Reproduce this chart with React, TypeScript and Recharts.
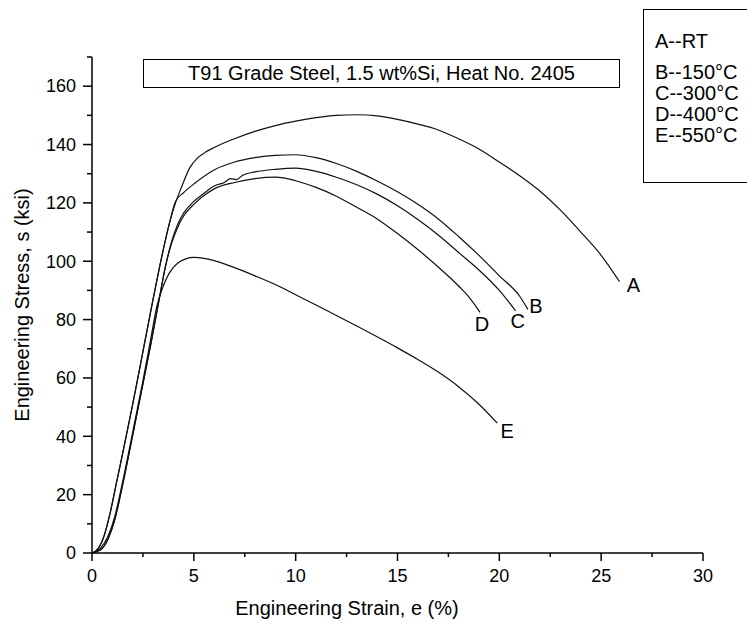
import { LineChart, Line, XAxis, YAxis, LabelList } from "recharts";

const FONT = '"Liberation Sans", Arial, sans-serif';

// strain (%) / stress (ksi)
const strainA = [0, 0.3, 0.6, 0.9, 1.2, 1.5, 2, 2.5, 3, 3.5, 3.8, 4.1, 4.4, 4.8, 5.2, 5.6, 6, 7, 8, 9, 10, 11, 12, 13, 14, 15, 16, 17, 18, 19, 20, 21, 22, 23, 24, 25, 25.9];
const stressA = [0, 1.5, 6, 14, 24, 34, 51, 69, 87, 104, 113, 120, 125.5, 132, 135.5, 137.5, 139, 142, 144.5, 146.5, 148, 149.2, 150, 150.2, 149.8, 148.6, 147, 145, 142, 138.5, 134, 129.3, 124, 117.5, 110, 102, 93];

const strainB = [0, 0.3, 0.6, 0.9, 1.2, 1.5, 2, 2.5, 3, 3.5, 3.8, 4.1, 4.5, 5, 6, 7, 8, 9, 10, 11, 12, 13, 14, 15, 16, 17, 18, 19, 20, 21, 21.4];
const stressB = [0, 1.5, 6, 14, 24, 34, 51, 69, 87, 104, 113, 120.5, 123.5, 126.5, 131.3, 134, 135.5, 136.3, 136.5, 135.5, 133.5, 130.8, 127.5, 123.8, 119.5, 114.5, 108.5, 102, 95, 88, 83.5];

const strainC = [0, 0.4, 0.8, 1.1, 1.4, 1.7, 2.1, 2.5, 2.9, 3.3, 3.6, 3.9, 4.2, 4.5, 5, 5.5, 6, 6.5, 6.8, 7.1, 7.4, 8, 9, 10, 11, 12, 13, 14, 15, 16, 17, 18, 19, 20, 20.8];
const stressC = [0, 1, 5, 11, 20, 30, 44, 58, 72, 87, 98, 106.5, 112.5, 116.5, 120.5, 123.3, 125.8, 127, 128.3, 128, 129.5, 130.6, 131.5, 131.9, 130.8, 128.8, 126.2, 123, 119, 114.3, 109, 103, 97, 90, 83];

const strainD = [0, 0.4, 0.8, 1.1, 1.4, 1.7, 2.1, 2.5, 2.9, 3.3, 3.6, 3.9, 4.2, 4.5, 5, 5.5, 6, 7, 8, 9, 10, 11, 12, 13, 14, 15, 16, 17, 18, 18.5, 19.05];
const stressD = [0, 1, 5, 11, 20, 30, 44, 58, 72, 87, 98, 106, 111.5, 115.5, 119.5, 122.5, 124.8, 127, 128.3, 128.8, 127.6, 125.3, 122.3, 118.5, 114.5, 109.5, 104, 98, 91.5, 87.8, 82.5];

const strainE = [0, 0.4, 0.8, 1.1, 1.4, 1.7, 2.1, 2.5, 2.9, 3.2, 3.5, 3.8, 4.2, 4.6, 5, 5.5, 6, 7, 8, 9, 10, 11, 12, 13, 14, 15, 16, 17, 18, 19, 19.9];
const stressE = [0, 1.5, 6, 12, 21, 31, 45, 59, 74, 85, 91.5, 96, 99.3, 100.8, 101.3, 101, 100.2, 97.8, 95, 92, 88.5, 85, 81.4, 77.8, 74.1, 70.3, 66.3, 62, 57, 51, 44.5];

const xTicks = [0, 2.5, 5, 7.5, 10, 12.5, 15, 17.5, 20, 22.5, 25, 27.5, 30];
const yTicks = [0, 10, 20, 30, 40, 50, 60, 70, 80, 90, 100, 110, 120, 130, 140, 150, 160, 170];

const legendItems = ["A--RT", "B--150°C", "C--300°C", "D--400°C", "E--550°C"];
const titleText = "T91 Grade Steel, 1.5 wt%Si, Heat No. 2405";

const series = [
  { id: "A", strain: strainA, stress: stressA },
  { id: "B", strain: strainB, stress: stressB },
  { id: "C", strain: strainC, stress: stressC },
  { id: "D", strain: strainD, stress: stressD },
  { id: "E", strain: strainE, stress: stressE },
];

// where each curve letter sits relative to the curve's last point
const labelOffset: Record<string, [number, number]> = {
  A: [14, 3],
  B: [8, -3],
  C: [2, 10],
  D: [2, 12],
  E: [10, 8],
};

// vertical centre of each legend line inside the box
const legendRowY = [31, 62, 83, 104, 125];

function XTick({ x, y, payload }: any) {
  const v = payload.value;
  const major = v % 5 === 0;
  return (
    <g>
      <line x1={x} x2={x} y1={y} y2={y + (major ? 8 : 4)} stroke="#000" strokeWidth={1.5} />
      {major && (
        <text x={x} y={y + 16} dy="0.71em" textAnchor="middle" fontSize={18} fontFamily={FONT} fill="#000">
          {v}
        </text>
      )}
    </g>
  );
}

function YTick({ x, y, payload }: any) {
  const v = payload.value;
  const major = v % 20 === 0;
  return (
    <g>
      <line x1={x} x2={x - (major ? 9 : 5)} y1={y} y2={y} stroke="#000" strokeWidth={1.5} />
      {major && (
        <text x={x - 16} y={y} dy="0.35em" textAnchor="end" fontSize={18} fontFamily={FONT} fill="#000">
          {v}
        </text>
      )}
    </g>
  );
}

function endLabel(id: string, last: number) {
  return (props: any) => {
    const { x, y, index } = props;
    if (index !== last) return null;
    const [dx, dy] = labelOffset[id];
    return (
      <text x={x + dx} y={y + dy} dy="0.35em" textAnchor="middle" fontSize={20} fontFamily={FONT} fill="#000">
        {id}
      </text>
    );
  };
}

export default function App() {
  return (
    <div style={{ position: "absolute", left: 0, top: 0, width: 747, height: 622, overflow: "hidden", background: "#fff", fontFamily: FONT }}>
      <LineChart width={747} height={622} margin={{ top: 57, right: 44, bottom: 29, left: 32 }}>
        <XAxis
          type="number"
          dataKey="x"
          domain={[0, 30]}
          ticks={xTicks}
          interval={0}
          height={40}
          tickSize={0}
          tickMargin={0}
          tickLine={false}
          tick={<XTick />}
          axisLine={{ stroke: "#000", strokeWidth: 1.5 }}
          allowDuplicatedCategory={false}
        />
        <YAxis
          type="number"
          domain={[0, 170]}
          ticks={yTicks}
          interval={0}
          width={60}
          tickSize={0}
          tickMargin={0}
          tickLine={false}
          tick={<YTick />}
          axisLine={{ stroke: "#000", strokeWidth: 1.5 }}
        />
        {series.map((s) => {
          const data = s.strain.map((x, i) => ({ x, y: s.stress[i] }));
          return (
            <Line
              key={s.id}
              data={data}
              dataKey="y"
              type="monotone"
              stroke="#111"
              strokeWidth={1.2}
              dot={false}
              activeDot={false}
              isAnimationActive={false}
            >
              <LabelList dataKey="y" content={endLabel(s.id, data.length - 1)} />
            </Line>
          );
        })}
      </LineChart>

      <div
        style={{
          position: "absolute",
          left: 143,
          top: 59,
          width: 477,
          height: 29,
          border: "1px solid #000",
          boxSizing: "border-box",
          display: "flex",
          alignItems: "center",
          justifyContent: "center",
          fontSize: 20,
          whiteSpace: "nowrap",
        }}
      >
        {titleText}
      </div>

      <div
        style={{
          position: "absolute",
          left: 643,
          top: 9,
          width: 130,
          height: 174,
          border: "1px solid #000",
          boxSizing: "border-box",
        }}
      >
        {legendItems.map((t, i) => (
          <div
            key={t}
            style={{
              position: "absolute",
              left: 11,
              top: legendRowY[i] - 12,
              fontSize: 20,
              lineHeight: "24px",
              whiteSpace: "nowrap",
            }}
          >
            {t}
          </div>
        ))}
      </div>

      <div
        style={{
          position: "absolute",
          left: 22,
          top: 305,
          transform: "translate(-50%, -50%) rotate(-90deg)",
          fontSize: 20,
          whiteSpace: "nowrap",
        }}
      >
        Engineering Stress, s (ksi)
      </div>
      <div
        style={{
          position: "absolute",
          left: 347,
          top: 608,
          transform: "translate(-50%, -50%)",
          fontSize: 20,
          whiteSpace: "nowrap",
        }}
      >
        Engineering Strain, e (%)
      </div>
    </div>
  );
}
